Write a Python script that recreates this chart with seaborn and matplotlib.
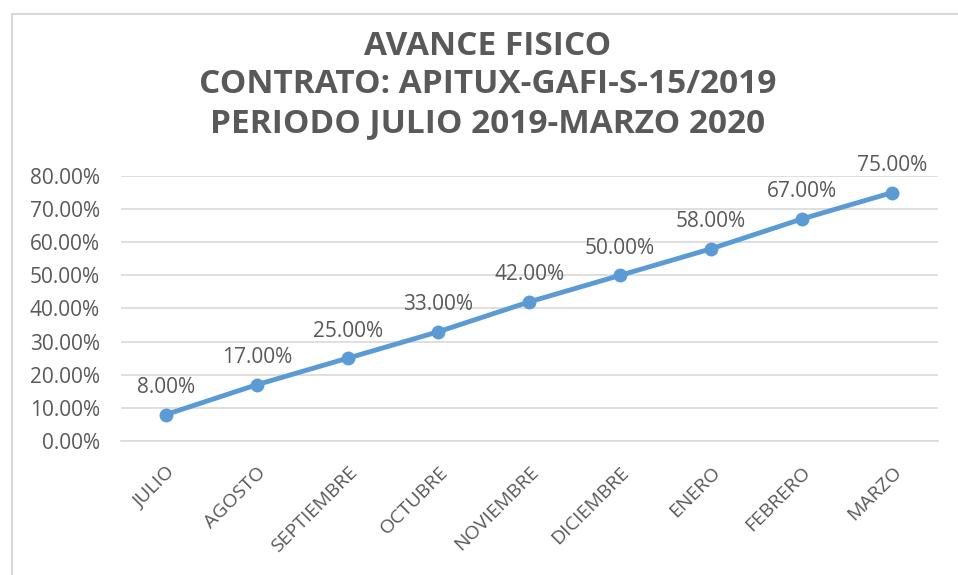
import seaborn as sns
import matplotlib.pyplot as plt
import matplotlib.patches as patches
import pandas as pd
import numpy as np

meses = ["JULIO", "AGOSTO", "SEPTIEMBRE", "OCTUBRE", "NOVIEMBRE",
         "DICIEMBRE", "ENERO", "FEBRERO", "MARZO"]
avance = [0.08, 0.17, 0.25, 0.33, 0.42, 0.50, 0.58, 0.67, 0.75]
yticks = [0.0, 0.1, 0.2, 0.3, 0.4, 0.5, 0.6, 0.7, 0.8]
titulo = "AVANCE FISICO\nCONTRATO: APITUX-GAFI-S-15/2019\nPERIODO JULIO 2019-MARZO 2020"

sns.set_style("white")
plt.rcParams['font.family'] = ['Open Sans', 'DejaVu Sans']

gris = "#595959"
azul = "#5B9BD5"

df = pd.DataFrame({"mes": meses, "avance": avance})

fig = plt.figure(figsize=(9.58, 5.75), dpi=100)
ax = fig.add_axes([0.126, 0.233, 0.853, 0.461])

# marco gris alrededor del grafico
fig.patches.append(patches.Rectangle((12 / 958, -0.01), 1.0, 1 - 14 / 575 + 0.01,
                                     transform=fig.transFigure, fill=False,
                                     edgecolor="#D9D9D9", linewidth=1.5))

x = np.arange(len(meses))
sns.lineplot(x=x, y=df["avance"], ax=ax, color=azul, linewidth=3.5,
             marker="o", markersize=10, markeredgewidth=0)

for xi, v in zip(x, avance):
    ax.annotate(f"{v*100:.2f}%", (xi, v), xytext=(0, 12), textcoords="offset points",
                ha="center", va="bottom", fontsize=15, color=gris)

ax.set_xlim(-0.5, len(meses) - 0.5)
ax.set_ylim(0, 0.8)
ax.set_yticks(yticks)
ax.set_yticklabels([f"{t*100:.2f}%" for t in yticks], fontsize=15, color=gris)
ax.set_xticks(x)
ax.set_xticklabels(meses, rotation=45, ha="right", rotation_mode="anchor",
                   fontsize=14, color=gris)
ax.tick_params(axis="y", length=0, pad=15)
ax.tick_params(axis="x", length=0, pad=16)
ax.grid(axis="y", color="#D9D9D9", linewidth=1.2)
ax.set_axisbelow(True)
for s in ax.spines.values():
    s.set_visible(False)
ax.spines["bottom"].set_visible(True)
ax.spines["bottom"].set_color("#D9D9D9")
ax.spines["bottom"].set_linewidth(1.2)
ax.set_xlabel("")
ax.set_ylabel("")

fig.text(0.509, 0.948, titulo, ha="center", va="top", fontsize=24,
         fontweight="bold", color=gris, linespacing=1.22)

fig.savefig("out.png", dpi=100)
